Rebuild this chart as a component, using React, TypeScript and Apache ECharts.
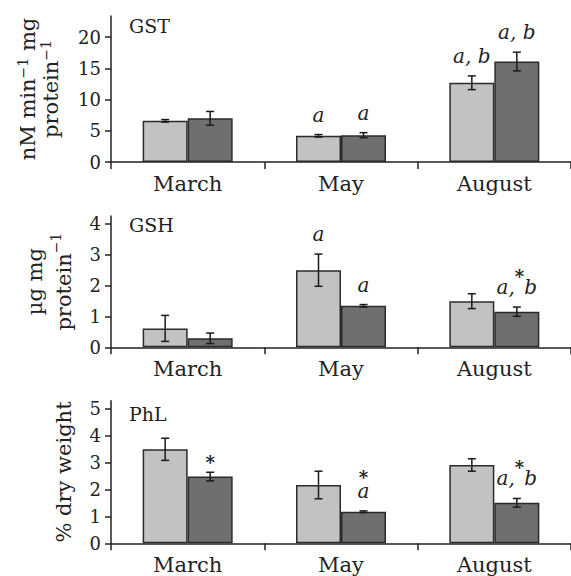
import React, { useEffect, useRef } from 'react';
import * as echarts from 'echarts';

const months = ['March', 'May', 'August'];
const panelNames = ['GST', 'GSH', 'PhL'];

const gstLight = [6.6, 4.2, 12.7];
const gstLightErr = [0.2, 0.2, 1.1];
const gstDark = [7.0, 4.3, 16.1];
const gstDarkErr = [1.1, 0.4, 1.5];

const gshLight = [0.61, 2.49, 1.49];
const gshLightErr = [0.42, 0.52, 0.24];
const gshDark = [0.29, 1.34, 1.15];
const gshDarkErr = [0.17, 0.04, 0.15];

const phlLight = [3.48, 2.16, 2.9];
const phlLightErr = [0.41, 0.51, 0.23];
const phlDark = [2.47, 1.17, 1.5];
const phlDarkErr = [0.16, 0.03, 0.16];

const gstLightMarks = ['', 'a', 'a, b'];
const gstDarkMarks = ['', 'a', 'a, b'];
const gshLightMarks = ['', 'a', ''];
const gshDarkMarks = ['', 'a', 'a, b'];
const phlLightMarks = ['', '', ''];
const phlDarkMarks = ['', 'a', 'a, b'];

const gstDarkStars = [false, false, false];
const gshDarkStars = [false, false, true];
const phlDarkStars = [true, true, true];
const noStars = [false, false, false];

const gstTicks = [0, 5, 10, 15, 20];
const gshTicks = [0, 1, 2, 3, 4];
const phlTicks = [0, 1, 2, 3, 4, 5];
const yMaxes = [23.4, 4.24, 5.28];

const FONT = '"DejaVu Serif", "Liberation Serif", serif';
const INK = '#222';
const LIGHT = '#c2c2c2';
const DARK = '#6f6f6f';

const panels = [
  {
    name: panelNames[0], light: gstLight, lightErr: gstLightErr, dark: gstDark, darkErr: gstDarkErr,
    lightMarks: gstLightMarks, darkMarks: gstDarkMarks, lightStars: noStars, darkStars: gstDarkStars,
    ticks: gstTicks, max: yMaxes[0], top: 16, height: 146, titleY: 26,
    yName: '{t|nM min}{s|−1}{t| mg}\n{t|protein}{s|−1}', nameGap: 49, nameLH: 23,
  },
  {
    name: panelNames[1], light: gshLight, lightErr: gshLightErr, dark: gshDark, darkErr: gshDarkErr,
    lightMarks: gshLightMarks, darkMarks: gshDarkMarks, lightStars: noStars, darkStars: gshDarkStars,
    ticks: gshTicks, max: yMaxes[1], top: 216, height: 131.3, titleY: 224.5,
    yName: '{t|µg mg}\n{t|protein}{s|−1}', nameGap: 33, nameLH: 29,
  },
  {
    name: panelNames[2], light: phlLight, lightErr: phlLightErr, dark: phlDark, darkErr: phlDarkErr,
    lightMarks: phlLightMarks, darkMarks: phlDarkMarks, lightStars: noStars, darkStars: phlDarkStars,
    ticks: phlTicks, max: yMaxes[2], top: 400.7, height: 142.6, titleY: 413.5,
    yName: '{t|% dry weight}', nameGap: 36, nameLH: 23,
  },
];

const BAR_W = 45;

export default function App() {
  const ref = useRef<HTMLDivElement>(null);
  useEffect(() => {
    if (!ref.current) return;
    const chart = echarts.init(ref.current, undefined, { renderer: 'svg' });

    const grids: any[] = [];
    const xAxes: any[] = [];
    const yAxes: any[] = [];
    const series: any[] = [];
    const graphics: any[] = [];

    const markRich = {
      m: { fontFamily: FONT, fontSize: 20, fontStyle: 'italic', color: INK, lineHeight: 22, verticalAlign: 'middle' },
      st: {
        fontFamily: FONT, fontSize: 18, fontWeight: 'bold', color: INK, lineHeight: 10,
        verticalAlign: 'middle', padding: [0, 0, 21, 0],
      },
    };

    panels.forEach((p, i) => {
      grids.push({ left: 111, top: p.top, width: 469, height: p.height, containLabel: false });
      xAxes.push({
        type: 'category', gridIndex: i, data: months,
        axisLine: { lineStyle: { color: INK, width: 1.5 } },
        axisTick: { show: true, length: 7, alignWithLabel: false, lineStyle: { color: INK, width: 1.5 } },
        axisLabel: { margin: 11, fontFamily: FONT, fontSize: 21, color: INK },
        splitLine: { show: false },
      });
      yAxes.push({
        type: 'value', gridIndex: i, min: 0, max: p.max,
        axisLine: { show: true, lineStyle: { color: INK, width: 1.5 } },
        axisTick: { show: true, length: 6, customValues: p.ticks, lineStyle: { color: INK, width: 1.5 } },
        axisLabel: { margin: 10, customValues: p.ticks, fontFamily: FONT, fontSize: 18, color: INK },
        splitLine: { show: false },
        name: p.yName, nameLocation: 'middle', nameRotate: 90, nameGap: p.nameGap,
        nameTextStyle: {
          fontFamily: FONT, fontSize: 21, color: INK, lineHeight: p.nameLH,
          rich: {
            t: { fontFamily: FONT, fontSize: 21, color: INK, lineHeight: p.nameLH },
            s: { fontFamily: FONT, fontSize: 14, color: INK, verticalAlign: 'top', lineHeight: p.nameLH },
          },
        },
      });
      series.push({
        type: 'bar', xAxisIndex: i, yAxisIndex: i, data: p.light, barWidth: BAR_W, barGap: '0%',
        itemStyle: { color: LIGHT, borderColor: '#2b2b2b', borderWidth: 1.5 },
      });
      series.push({
        type: 'bar', xAxisIndex: i, yAxisIndex: i, data: p.dark, barWidth: BAR_W, barGap: '0%',
        itemStyle: { color: DARK, borderColor: '#2b2b2b', borderWidth: 1.5 },
      });
      const rows: any[] = [];
      months.forEach((_, c) => {
        rows.push({ cat: c, side: -1, v: p.light[c], e: p.lightErr[c], mark: p.lightMarks[c], star: p.lightStars[c] });
        rows.push({ cat: c, side: 1, v: p.dark[c], e: p.darkErr[c], mark: p.darkMarks[c], star: p.darkStars[c] });
      });
      series.push({
        type: 'custom', xAxisIndex: i, yAxisIndex: i, z: 5, clip: false,
        data: rows.map((r) => [r.cat, r.v + r.e]),
        renderItem: (params: any, api: any) => {
          const r = rows[params.dataIndex];
          const x = api.coord([r.cat, 0])[0] + (r.side * BAR_W) / 2;
          const yT = api.coord([r.cat, r.v + r.e])[1];
          const yB = api.coord([r.cat, r.v - r.e])[1];
          const st = { stroke: '#1a1a1a', lineWidth: 1.5 };
          const children: any[] = [
            { type: 'line', shape: { x1: x, y1: yT, x2: x, y2: yB }, style: st },
            { type: 'line', shape: { x1: x - 4, y1: yT, x2: x + 4, y2: yT }, style: st },
            { type: 'line', shape: { x1: x - 4, y1: yB, x2: x + 4, y2: yB }, style: st },
          ];
          const pair = r.mark.indexOf(', ') >= 0;
          if (r.mark) {
            let text = `{m|${r.mark}}`;
            if (r.star && pair) {
              const [a, b] = r.mark.split(', ');
              text = `{m|${a},}{st|*}{m|${b}}`;
            }
            children.push({
              type: 'text',
              style: {
                text, x, y: yT - 9, align: 'center', verticalAlign: 'bottom',
                fontFamily: FONT, fontSize: 20, fill: INK, rich: markRich,
              },
            });
          }
          if (r.star && !pair) {
            children.push({
              type: 'text',
              style: {
                text: '*', x, y: r.mark ? yT - 33 : yT - 10,
                align: 'center', verticalAlign: 'middle',
                fontFamily: FONT, fontSize: 18, fontWeight: 'bold', fill: INK,
              },
            });
          }
          return { type: 'group', children };
        },
      });
      graphics.push({
        type: 'text', x: 129, y: p.titleY,
        style: { text: p.name, fontFamily: FONT, fontSize: 19, fill: INK, verticalAlign: 'middle' },
      });
    });

    chart.setOption({
      animation: false,
      backgroundColor: '#fff',
      grid: grids,
      xAxis: xAxes,
      yAxis: yAxes,
      series,
      graphic: graphics,
    });
    return () => chart.dispose();
  }, []);
  return <div ref={ref} style={{ position: 'absolute', left: 0, top: 0, width: 571, height: 576 }} />;
}
